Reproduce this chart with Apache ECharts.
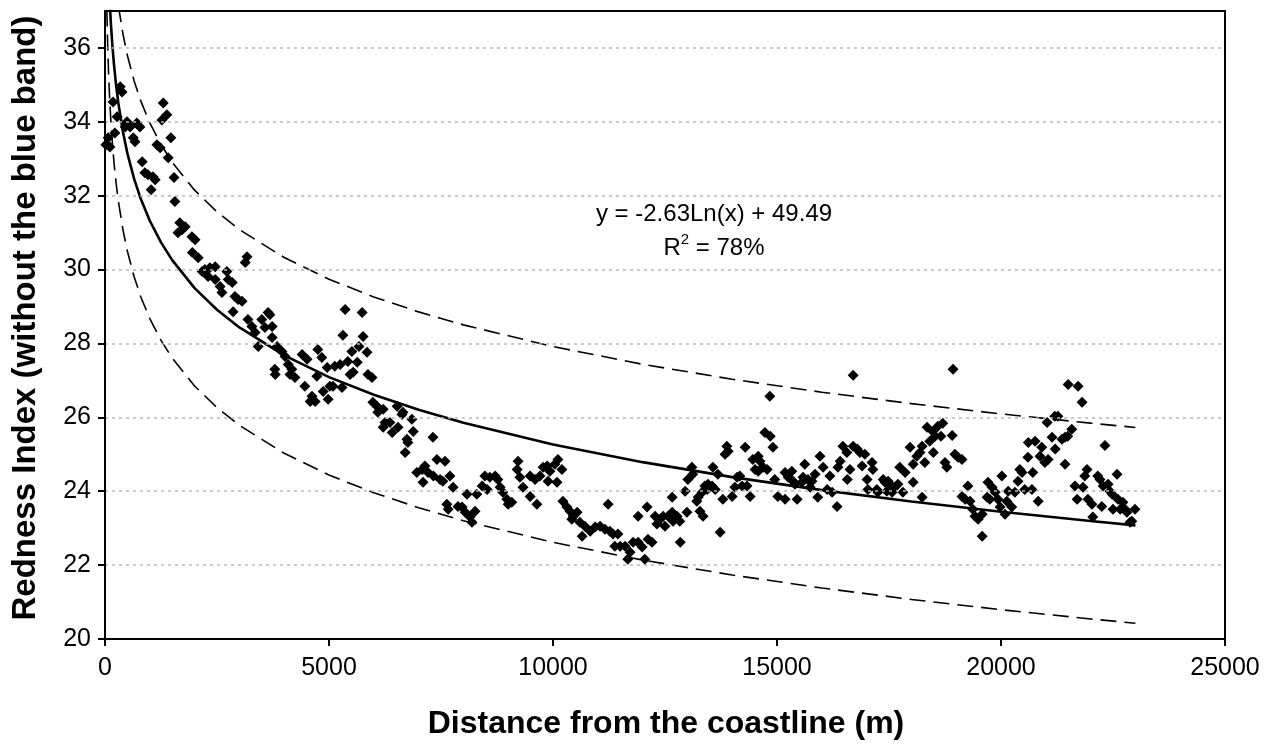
<!DOCTYPE html>
<html>
<head>
<meta charset="utf-8">
<script src="https://cdn.jsdelivr.net/npm/echarts@6/dist/echarts.min.js"></script>
<style>
  html, body { margin: 0; padding: 0; background: #fff; }
  #chart { width: 1273px; height: 745px; }
</style>
</head>
<body>
<div id="chart"></div>
<script>
// ---- Data ----
const distance = [
  20,70,110,180,220,270,340,380,450,490,560,630,670,710,780,830,890,960,1030,1070,1120,1160,1230,1270,1300,1380,1410,1470,1540,1560,1630,1670,1720,1790,1940,1950,2010,2080,2170,2230,2300,2340,2460,2460,2570,2610,2720,2750,2840,2860,2900,2970,3060,3130,3170,3190,3280,3350,3420,3500,3570,3640,
  3680,3730,3730,3790,3800,3840,3950,4020,4090,4130,4170,4240,4400,4460,4510,4580,4620,4690,4730,4750,4840,4870,4960,4980,5020,5090,5130,5250,5290,5310,5360,5420,5470,5510,5540,5630,5670,5740,5760,5850,5870,5960,5980,6070,6090,6210,6210,6250,6360,6410,6520,6540,6630,6650,6700,6740,6760,6850,6880,6960,7080,7100,7140,7210,7320,7330,7410,7480,7540,7590,
  7630,7660,7700,7770,7880,7970,8040,8080,8150,8190,8260,8300,8420,8480,8530,8590,8710,8770,8820,8880,8970,9000,9080,9200,9220,9260,9330,9490,9490,9600,9640,9710,9780,9870,9890,9930,10040,10090,10110,10200,10220,10310,10380,10420,10450,10540,10600,10650,10710,10830,10940,
  11050,11160,11230,11270,11340,11380,11450,11500,11610,11670,11720,11790,11900,11900,11990,12050,12100,12120,12210,12280,12320,12390,12460,12500,12570,12660,12660,12680,12770,12830,12840,12950,12990,13010,13100,13120,13210,13240,13280,13330,13350,13390,13440,13460,13550,13570,13620,13680,13730,13790,13840,13880,13910,14000,14060,14110,14170,14220,14290,14330,14400,14460,14510,14580,14580,14620,14690,14730,14780,
  14840,14850,14910,14950,15020,15180,15180,15250,15330,15360,15400,15450,15560,15580,15620,15690,15740,15780,15850,15910,15960,16030,16120,16180,16230,16340,16360,16410,16470,16560,16570,16630,16700,16700,16790,16850,16900,16960,17010,17030,17120,17140,17230,17250,17370,17410,17450,17480,17520,17570,17630,17700,17740,17810,17860,17970,18040,18040,18120,18190,18240,18240,18300,18350,18410,18480,18490,18530,18590,
  18660,18700,18750,18790,18910,18930,18970,19040,19130,19130,19200,19260,19310,19370,19420,19490,19580,19580,19690,19710,19750,19800,19870,19930,19980,20020,20090,20130,20160,20240,20310,20380,20420,20470,20530,20600,20610,20690,20710,20760,20830,20870,20910,20980,21030,21050,21140,21200,21210,21270,21360,21430,21430,21490,21500,21580,21650,21700,21720,21810,21830,21870,21920,21940,22030,22050,22160,22210,22250,22280,22320,22390,22430,22480,22500,22590,22610,22660,22720,22770,22810,22880,22920,22990
];
const redness = [
  33.38,33.57,33.32,34.54,33.70,34.14,34.95,34.81,33.86,34.00,33.86,33.57,33.46,33.97,33.86,32.92,32.62,32.57,32.16,32.51,32.43,33.38,33.30,34.05,34.51,34.19,33.03,33.57,32.49,31.84,31.00,31.27,31.08,31.16,30.89,30.46,30.81,30.32,29.95,30.00,29.81,30.05,30.08,29.73,29.54,29.38,29.95,29.73,29.65,28.86,29.27,29.19,29.14,30.19,30.35,28.65,28.46,28.30,27.92,28.65,28.43,28.84,
  28.78,28.46,28.16,27.30,27.16,27.92,27.78,27.65,27.43,27.16,27.30,27.08,27.70,26.84,27.57,26.43,26.57,26.43,27.11,27.84,27.62,26.70,27.35,26.49,26.84,26.84,27.38,27.43,26.81,28.22,28.92,27.51,27.16,27.78,27.22,27.49,27.92,28.84,28.19,27.76,27.16,27.08,26.41,26.30,26.14,26.22,25.73,25.86,25.86,25.59,26.30,25.73,26.08,26.14,25.05,25.41,25.32,25.95,25.62,24.51,24.59,24.24,24.68,24.51,25.46,24.41,24.86,24.32,24.27,24.81,
  23.65,23.51,24.41,24.11,23.59,23.57,23.43,23.92,23.30,23.16,23.46,23.92,24.14,24.41,24.05,24.38,24.41,24.32,24.11,23.97,23.78,23.65,23.70,24.59,24.81,24.38,24.11,23.86,24.41,24.32,23.65,24.41,24.65,24.68,24.27,24.54,24.73,24.24,24.86,24.59,23.73,23.57,23.46,23.24,23.32,23.43,23.16,22.78,23.05,22.92,23.03,
  23.05,22.97,23.65,22.92,22.84,22.51,22.84,22.51,22.51,22.16,22.35,22.62,22.62,23.32,22.49,22.16,23.57,22.70,22.62,23.32,23.11,23.24,23.32,23.05,23.32,23.43,23.84,23.19,23.32,23.19,22.62,24.00,23.43,24.32,24.65,24.46,23.73,23.84,23.46,23.97,23.32,24.14,24.05,24.19,24.14,24.65,24.05,24.46,22.89,23.78,25.00,25.22,25.08,23.86,24.11,24.38,24.41,24.14,25.19,24.14,23.86,24.86,24.59,24.95,24.54,24.81,24.65,25.59,24.59,
  26.57,25.49,25.19,24.32,23.86,23.78,24.51,24.38,24.54,24.27,24.19,23.78,24.24,24.38,24.73,24.32,24.11,24.27,24.46,23.84,24.95,24.65,24.05,24.41,23.97,23.59,24.65,24.81,25.22,25.05,24.32,24.59,27.14,25.22,25.14,25.05,24.68,25.00,24.32,24.05,24.78,24.59,24.05,23.97,24.32,24.24,24.00,24.27,24.19,23.97,24.11,24.19,24.65,23.97,24.51,25.19,24.73,24.24,24.95,25.05,25.22,23.84,24.78,25.73,25.35,25.62,25.05,25.49,25.76,
  25.49,25.84,24.78,24.65,25.51,27.30,25.00,24.92,24.86,23.86,23.78,24.14,23.73,23.51,23.32,23.24,23.38,22.78,23.84,24.24,23.78,24.11,23.97,23.78,23.57,24.41,23.38,23.73,24.00,23.57,23.97,24.27,24.59,24.51,24.05,24.92,25.32,24.05,24.51,25.35,23.73,24.95,25.19,24.78,25.86,24.86,25.46,26.03,25.14,26.03,25.41,25.46,24.73,25.49,26.89,25.68,24.14,23.78,26.84,26.41,24.11,24.41,24.59,23.78,23.65,23.30,24.41,24.32,23.59,24.14,25.24,24.19,24.00,23.92,23.51,24.46,23.78,23.51,23.70,23.51,23.43,23.16,23.19,23.51
];
// Fitted curve shown on the chart: y = -2.63 Ln(x) + 49.49, with dashed bands
const fitSlope = -2.63;
const fitIntercept = 49.49;
const bandHalfWidth = 2.65;
const curveX = [20,30,40,50,60,80,100,130,160,200,250,300,400,500,650,800,1000,1250,1500,2000,2500,3000,4000,5000,6000,7000,8000,10000,12000,14000,16000,18000,20000,22000,23000];
const xTicks = [0, 5000, 10000, 15000, 20000, 25000];
const yTicks = [20, 22, 24, 26, 28, 30, 32, 34, 36];
const xTitle = 'Distance from the coastline (m)';
const yTitle = 'Redness Index (without the blue band)';
const equationText = 'y = -2.63Ln(x) + 49.49';
const r2Text = '78%';

// ---- Build chart ----
const FONT = 'Liberation Sans, Arial, Helvetica, sans-serif';
const points = distance.map((d, i) => [d, redness[i]]);
const fit = (x, off) => fitSlope * Math.log(x) + fitIntercept + off;
const trend = curveX.map(x => [x, fit(x, 0)]);
const upper = curveX.map(x => [x, fit(x, bandHalfWidth)]);
const lower = curveX.map(x => [x, fit(x, -bandHalfWidth)]);
const xMin = xTicks[0], xMax = xTicks[xTicks.length - 1];
const yMin = yTicks[0], yMax = 37;

const frameAxis = () => ({ show: true, axisLine: { show: true, onZero: false, lineStyle: { color: '#000', width: 2 } },
  axisTick: { show: false }, axisLabel: { show: false }, splitLine: { show: false }, z: 10 });

const chart = echarts.init(document.getElementById('chart'), null, { renderer: 'canvas' });
chart.setOption({
  animation: false,
  backgroundColor: '#fff',
  grid: { left: 105, right: 48, top: 11, bottom: 106, show: false },
  xAxis: [{
    type: 'value', min: xMin, max: xMax, interval: 5000,
    axisLine: { show: true, onZero: false, lineStyle: { color: '#000', width: 2 } },
    axisTick: { show: true, length: 7, lineStyle: { color: '#000', width: 2 } },
    axisLabel: { fontFamily: FONT, fontSize: 25, color: '#000', margin: 17, formatter: v => String(v) },
    splitLine: { show: false }, z: 10
  }, Object.assign({ type: 'value', position: 'top', min: xMin, max: xMax }, frameAxis())],
  yAxis: [{
    type: 'value', min: yMin, max: yMax, interval: 2,
    axisLine: { show: true, onZero: false, lineStyle: { color: '#000', width: 2 } },
    axisTick: { show: true, length: 7, lineStyle: { color: '#000', width: 2 } },
    axisLabel: { fontFamily: FONT, fontSize: 25, color: '#000', margin: 14, showMaxLabel: false,
      formatter: v => (v % 2 === 0 ? String(v) : '') },
    splitLine: { show: true, lineStyle: { color: '#b8b8b8', width: 1.5, type: [3, 4] } }, z: 10
  }, Object.assign({ type: 'value', position: 'right', min: yMin, max: yMax }, frameAxis())],
  series: [
    { type: 'line', data: upper, showSymbol: false, symbol: 'none', silent: true, clip: true,
      lineStyle: { color: '#000', width: 1.6, type: [16, 8] }, z: 2 },
    { type: 'line', data: lower, showSymbol: false, symbol: 'none', silent: true, clip: true,
      lineStyle: { color: '#000', width: 1.6, type: [16, 8] }, z: 2 },
    { type: 'line', data: trend, showSymbol: false, symbol: 'none', silent: true, clip: true, smooth: false,
      lineStyle: { color: '#000', width: 2.6 }, z: 3 },
    { type: 'scatter', data: points, symbol: 'diamond', symbolSize: 11, clip: true,
      itemStyle: { color: '#000', opacity: 1 }, z: 4 }
  ],
  graphic: [
    { type: 'text', x: 26, y: 318, rotation: Math.PI / 2, z: 10,
      style: { text: yTitle, fontFamily: FONT, fontSize: 33, fontWeight: 'bold', fill: '#000', align: 'center', verticalAlign: 'middle' } },
    { type: 'text', x: 666, y: 724, z: 10,
      style: { text: xTitle, fontFamily: FONT, fontSize: 32, fontWeight: 'bold', fill: '#000', align: 'center', verticalAlign: 'middle' } },
    { type: 'text', x: 714, y: 214, z: 10,
      style: { text: equationText, fontFamily: FONT, fontSize: 24, fill: '#000', align: 'center', verticalAlign: 'middle' } },
    { type: 'text', x: 714, y: 248, z: 10,
      style: { text: '{a|R}{s|2}{a| = ' + r2Text + '}', fontFamily: FONT, fontSize: 24, fill: '#000', align: 'center', verticalAlign: 'middle',
        rich: { a: { fontFamily: FONT, fontSize: 24, fill: '#000', lineHeight: 28 },
                s: { fontFamily: FONT, fontSize: 15, fill: '#000', lineHeight: 28, padding: [0, 0, 16, 0] } } } }
  ]
});
</script>
</body>
</html>
